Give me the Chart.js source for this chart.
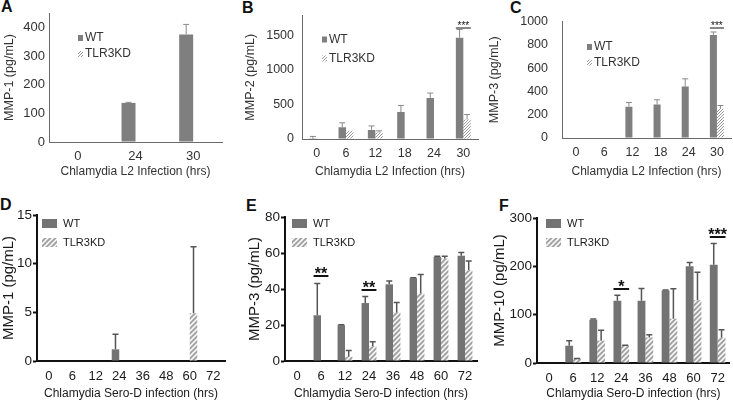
<!DOCTYPE html>
<html><head><meta charset="utf-8">
<script src="https://cdn.jsdelivr.net/npm/chart.js@4/dist/chart.umd.min.js"></script>
<style>
html,body{margin:0;padding:0;background:#fff;}
body{width:733px;height:402px;position:relative;overflow:hidden;font-family:'Liberation Sans',Arial,sans-serif;}
canvas{position:absolute;}
.lbl{position:absolute;font-weight:bold;font-size:16px;line-height:16px;color:#111;}
</style></head><body>
<div class="lbl" style="left:1px;top:-1px">A</div>
<div class="lbl" style="left:242px;top:0px">B</div>
<div class="lbl" style="left:510px;top:0px">C</div>
<div class="lbl" style="left:0px;top:197px">D</div>
<div class="lbl" style="left:246px;top:198px">E</div>
<div class="lbl" style="left:499px;top:198px">F</div>
<canvas id="cA" width="240" height="190" style="left:0px;top:0px"></canvas>
<canvas id="cB" width="242" height="190" style="left:243px;top:0px"></canvas>
<canvas id="cC" width="246" height="190" style="left:487px;top:0px"></canvas>
<canvas id="cD" width="240" height="206" style="left:0px;top:196px"></canvas>
<canvas id="cE" width="238" height="206" style="left:246px;top:196px"></canvas>
<canvas id="cF" width="242" height="206" style="left:491px;top:196px"></canvas>
<script>
// ---------- DATA ----------
const seriesNames = ['WT', 'TLR3KD'];

const catsA = ['0', '24', '30'];
const wtA = [0, 137, 377];
const wtErrA = [0, 2, 35];
const kdA = [0, 0, 0];
const kdErrA = [0, 0, 0];
const yTicksA = [0, 100, 200, 300, 400];

const catsB = ['0', '6', '12', '18', '24', '30'];
const wtB = [3, 170, 132, 391, 595, 1468];
const wtErrB = [34, 65, 57, 95, 71, 119];
const kdB = [0, 118, 94, 0, 0, 283];
const kdErrB = [0, 0, 24, 0, 0, 71];
const yTicksB = [0, 500, 1000, 1500];
const sigIdxB = [5];
const sigLvlB = [1615];
const sigTxtB = ['***'];

const catsC = ['0', '6', '12', '18', '24', '30'];
const wtC = [0, 0, 269, 287, 441, 885];
const wtErrC = [0, 0, 36, 41, 67, 25];
const kdC = [0, 0, 0, 0, 0, 249];
const kdErrC = [0, 0, 0, 0, 0, 30];
const yTicksC = [0, 200, 400, 600, 800, 1000];
const sigIdxC = [5];
const sigLvlC = [943];
const sigTxtC = ['***'];

const catsD = ['0', '6', '12', '24', '36', '48', '60', '72'];
const wtD = [0, 0, 0, 1.2, 0, 0, 0, 0];
const wtErrD = [0, 0, 0, 1.55, 0, 0, 0, 0];
const kdD = [0, 0, 0, 0, 0, 0, 4.9, 0];
const kdErrD = [0, 0, 0, 0, 0, 0, 6.85, 0];
const yTicksD = [0, 5, 10, 15];

const catsE = ['0', '6', '12', '24', '36', '48', '60', '72'];
const wtE = [0, 25.4, 19.9, 32.2, 42.6, 46, 57.8, 58.5];
const wtErrE = [0, 17.6, 0.3, 3.7, 1.9, 0.3, 0.4, 1.8];
const kdE = [0, 0, 2.4, 8.3, 27, 37.5, 57, 50.5];
const kdErrE = [0, 0, 3.5, 2.4, 5.5, 10.5, 1.2, 5];
const yTicksE = [0, 20, 40, 60, 80];
const sigIdxE = [1, 3];
const sigLvlE = [47.1, 39.4];
const sigTxtE = ['**', '**'];

const catsF = ['0', '6', '12', '24', '36', '48', '60', '72'];
const wtF = [0, 35.9, 89.7, 129, 129, 150, 200, 203.5];
const wtErrF = [0, 10, 1.3, 11, 25, 1, 8, 43.5];
const kdF = [0, 9, 46, 36, 53, 91.7, 129.7, 53];
const kdErrF = [0, 0.5, 21.6, 0.5, 5.6, 62, 58, 16];
const yTicksF = [0, 100, 200, 300];
const sigIdxF = [3, 7];
const sigLvlF = [152.8, 260.6];
const sigTxtF = ['*', '***'];

// ---------- STYLE HELPERS ----------
const FONT = "'Liberation Sans', Arial, Helvetica, sans-serif";

function stripes(size, bg, fg, lw) {
  const c = document.createElement('canvas');
  c.width = c.height = size;
  const x = c.getContext('2d');
  x.fillStyle = bg; x.fillRect(0, 0, size, size);
  x.strokeStyle = fg; x.lineWidth = lw;
  x.beginPath();
  x.moveTo(0, size); x.lineTo(size, 0);
  x.moveTo(-size / 2, size / 2); x.lineTo(size / 2, -size / 2);
  x.moveTo(size / 2, size * 1.5); x.lineTo(size * 1.5, size / 2);
  x.stroke();
  return x.createPattern(c, 'repeat');
}

function zipSig(idx, lvl, txt) {
  return idx.map((v, i) => ({ index: v, level: lvl[i], text: txt[i] }));
}

function panel(id, o) {
  const el = document.getElementById(id);
  const errPlugin = {
    id: 'errBars_' + id,
    afterDatasetsDraw(chart) {
      const ctx = chart.ctx, ys = chart.scales.y;
      o.errs.forEach((errArr, di) => {
        const meta = chart.getDatasetMeta(di);
        const vals = chart.data.datasets[di].data;
        meta.data.forEach((bar, i) => {
          const e = errArr[i];
          if (!e) return;
          const yTop = ys.getPixelForValue(vals[i] + e);
          const yBot = ys.getPixelForValue(vals[i]);
          ctx.save();
          ctx.strokeStyle = o.errColor; ctx.lineWidth = o.errWidth;
          ctx.beginPath();
          ctx.moveTo(bar.x, yBot); ctx.lineTo(bar.x, yTop);
          ctx.moveTo(bar.x - o.cap / 2, yTop); ctx.lineTo(bar.x + o.cap / 2, yTop);
          ctx.stroke();
          ctx.restore();
        });
      });
    }
  };
  const sigPlugin = {
    id: 'sig_' + id,
    afterDatasetsDraw(chart) {
      if (!o.sig) return;
      const ctx = chart.ctx, ys = chart.scales.y;
      const m0 = chart.getDatasetMeta(0), m1 = chart.getDatasetMeta(1);
      o.sig.forEach(s => {
        const b0 = m0.data[s.index], b1 = m1.data[s.index];
        const x0 = b0.x - b0.width / 2, x1 = b1.x + b1.width / 2;
        const yy = Math.round(ys.getPixelForValue(s.level));
        ctx.save();
        ctx.strokeStyle = '#111'; ctx.lineWidth = o.sigLine;
        ctx.beginPath(); ctx.moveTo(x0, yy); ctx.lineTo(x1, yy); ctx.stroke();
        ctx.fillStyle = '#111';
        ctx.font = o.sigFont;
        ctx.textAlign = 'center'; ctx.textBaseline = 'alphabetic';
        ctx.fillText(s.text, (x0 + x1) / 2, yy + o.sigDy);
        ctx.restore();
      });
    }
  };
  const legPlugin = {
    id: 'leg_' + id,
    afterDraw(chart) {
      const ctx = chart.ctx, ca = chart.chartArea, L = o.leg;
      chart.data.datasets.forEach((ds, i) => {
        const x = ca.left + L.dx, yc = ca.top + L.dy + i * L.gap;
        ctx.save();
        ctx.fillStyle = ds.backgroundColor;
        ctx.fillRect(x, yc - L.bh / 2, L.bw, L.bh);
        ctx.fillStyle = o.textColor;
        ctx.font = L.font;
        ctx.textBaseline = 'middle';
        ctx.fillText(ds.label, x + L.bw + L.tg, yc);
        ctx.restore();
      });
    }
  };
  return new Chart(el, {
    type: 'bar',
    data: {
      labels: o.labels,
      datasets: [
        { label: seriesNames[0], data: o.wt, backgroundColor: o.wtColor, borderWidth: 0,
          categoryPercentage: o.cp, barPercentage: 1 },
        { label: seriesNames[1], data: o.kd, backgroundColor: o.kdFill, borderWidth: 0,
          categoryPercentage: o.cp, barPercentage: 1 }
      ]
    },
    options: {
      responsive: false, animation: false, devicePixelRatio: 1,
      layout: { autoPadding: false, padding: o.pad },
      plugins: { legend: { display: false }, tooltip: { enabled: false }, title: { display: false } },
      scales: {
        x: {
          grid: { display: false, drawTicks: false },
          border: { display: true, color: o.axisColor, width: o.axisWidth },
          ticks: { font: { family: FONT, size: o.xTickSize }, color: o.textColor, padding: o.xTickPad, maxRotation: 0, autoSkip: false },
          title: { display: true, text: o.xTitle, font: { family: FONT, size: o.xTitleSize }, color: o.textColor,
                   padding: { top: 0, bottom: o.xTitlePad } },
          afterFit: s => { s.height = o.xH; }
        },
        y: {
          min: 0, max: o.max,
          ticks: { font: { family: FONT, size: o.yTickSize }, color: o.textColor, padding: o.yTickPad,
                   callback: v => String(v) },
          afterBuildTicks: s => { s.ticks = o.yTickVals.map(v => ({ value: v })); },
          grid: { display: true, drawOnChartArea: false, drawTicks: o.yTicks, tickLength: o.tickLen,
                  tickColor: o.axisColor, tickWidth: o.axisWidth },
          border: { display: true, color: o.axisColor, width: o.axisWidth },
          title: { display: true, text: o.yTitle, font: { family: FONT, size: o.yTitleSize }, color: o.textColor,
                   padding: { top: o.yTitlePad, bottom: 0 } },
          afterFit: s => { s.width = o.yW; }
        }
      }
    },
    plugins: [errPlugin, sigPlugin, legPlugin]
  });
}

const hatchTop = stripes(3, '#ffffff', '#8c8c8c', 0.9);
const hatchBot = stripes(5, '#a4a4a4', '#ffffff', 1.5);
const topStyle = {
  wtColor: '#7f7f7f', kdFill: hatchTop, axisColor: '#6a6a6a', axisWidth: 1, textColor: '#333',
  errColor: '#8a8a8a', errWidth: 1, cap: 6, yTicks: false, tickLen: 0,
  xTickSize: 12.5, yTickSize: 12.5, xTitleSize: 12, yTitleSize: 12.5,
  xTickPad: 7, xTitlePad: 11, sigLine: 1, sigFont: '10px ' + FONT, sigDy: 1,
};
const botStyle = {
  wtColor: '#737373', kdFill: hatchBot, axisColor: '#111', axisWidth: 2, textColor: '#1a1a1a',
  errColor: '#555', errWidth: 1.5, cap: 6, yTicks: true, tickLen: 4,
  xTickSize: 13, yTickSize: 13.5, xTitleSize: 12, yTitleSize: 15,
  xTickPad: 8, xTitlePad: 1.5, yTickPad: 1, sigLine: 2, sigFont: 'bold 16px ' + FONT, sigDy: 2.5,
};
const topLegend = { bw: 5, bh: 6, tg: 2, gap: 17, font: '12px ' + FONT };
const botLegend = { bw: 15, bh: 9, tg: 6, gap: 19, font: '11px ' + FONT };

panel('cA', Object.assign({}, topStyle, {
  labels: catsA, wt: wtA, kd: kdA, errs: [wtErrA, kdErrA], cp: 0.485,
  max: 452, yTickVals: yTicksA, pad: { top: 13, right: 18, bottom: 0, left: 0 }, yW: 49, xH: 48,
  yTickPad: 4, yTitlePad: 2.5, xTickSize: 13, yTickSize: 13,
  xTitle: 'Chlamydia L2 Infection (hrs)', yTitle: 'MMP-1 (pg/mL)',
  leg: Object.assign({}, topLegend, { dx: 29, dy: 25, gap: 16 })
}));
panel('cB', Object.assign({}, topStyle, {
  labels: catsB, wt: wtB, kd: kdB, errs: [wtErrB, kdErrB], cp: 0.51,
  max: 1790, yTickVals: yTicksB, pad: { top: 12, right: 7, bottom: 0, left: 0 }, yW: 59, xH: 51,
  yTickPad: 8, yTitlePad: 0,
  xTitle: 'Chlamydia L2 Infection (hrs)', yTitle: 'MMP-2 (pg/mL)',
  sig: zipSig(sigIdxB, sigLvlB, sigTxtB),
  leg: Object.assign({}, topLegend, { dx: 20, dy: 24, gap: 19 })
}));
panel('cC', Object.assign({}, topStyle, {
  labels: catsC, wt: wtC, kd: kdC, errs: [wtErrC, kdErrC], cp: 0.5,
  max: 1000, yTickVals: yTicksC, pad: { top: 8, right: 2, bottom: 0, left: 0 }, yW: 75, xH: 52,
  yTickPad: 14, yTitlePad: 0,
  xTitle: 'Chlamydia L2 Infection (hrs)', yTitle: 'MMP-3 (pg/mL)',
  sig: zipSig(sigIdxC, sigLvlC, sigTxtC),
  leg: Object.assign({}, topLegend, { dx: 25, dy: 25.5, gap: 15.5 })
}));
panel('cD', Object.assign({}, botStyle, {
  labels: catsD, wt: wtD, kd: kdD, errs: [wtErrD, kdErrD], cp: 0.64,
  max: 15, yTickVals: yTicksD, pad: { top: 19, right: 15, bottom: 0, left: 0 }, yW: 37, xH: 41,
  yTitlePad: 0,
  xTitle: 'Chlamydia Sero-D infection (hrs)', yTitle: 'MMP-1 (pg/mL)',
  leg: Object.assign({}, botLegend, { dx: 5, dy: 8.5 })
}));
panel('cE', Object.assign({}, botStyle, {
  labels: catsE, wt: wtE, kd: kdE, errs: [wtErrE, kdErrE], cp: 0.62,
  max: 80, yTickVals: yTicksE, pad: { top: 21, right: 7, bottom: 0, left: 0 }, yW: 39, xH: 41,
  yTitlePad: 0,
  xTitle: 'Chlamydia Sero-D infection (hrs)', yTitle: 'MMP-3 (pg/mL)',
  sig: zipSig(sigIdxE, sigLvlE, sigTxtE),
  leg: Object.assign({}, botLegend, { dx: 7, dy: 6.5 })
}));
panel('cF', Object.assign({}, botStyle, {
  labels: catsF, wt: wtF, kd: kdF, errs: [wtErrF, kdErrF], cp: 0.65,
  max: 300, yTickVals: yTicksF, pad: { top: 22, right: 2, bottom: 0, left: 0 }, yW: 46, xH: 39,
  yTitlePad: 0,
  xTitle: 'Chlamydia Sero-D infection (hrs)', yTitle: 'MMP-10 (pg/mL)',
  sig: zipSig(sigIdxF, sigLvlF, sigTxtF),
  leg: Object.assign({}, botLegend, { dx: 9, dy: 5.5 })
}));
</script>
</body></html>
